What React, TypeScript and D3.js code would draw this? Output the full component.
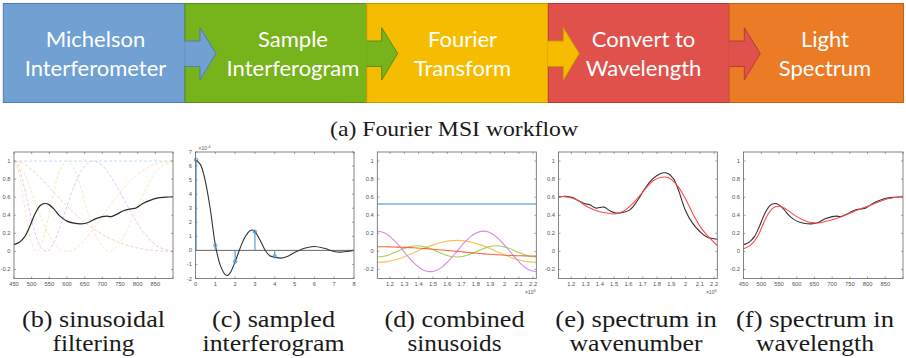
import React from "react";
import * as d3 from "d3";

// ---------- flowchart ----------
const flowLine1 = ["Michelson", "Sample", "Fourier", "Convert to", "Light"];
const flowLine2 = ["Interferometer", "Interferogram", "Transform", "Wavelength", "Spectrum"];
const flowFill = ["#71A1D3", "#77B41B", "#F6BD00", "#E0514B", "#EC7B26"];
const flowStroke = ["#4E7DB0", "#5C8D14", "#C99A00", "#B83D37", "#C2631C"];

// ---------- (b) sinusoidal filtering ----------
const filterWl = [900, 857.1, 818.2, 782.6, 750, 720, 692.3, 666.7, 642.9, 620.7, 600, 580.6, 562.5, 545.5, 529.4, 514.3, 500, 486.5, 473.7, 461.5, 450];
const filterFlatWl = [450, 900];
const filterFlat = [1, 1];
const filterHalf = [0, 0.006, 0.024, 0.054, 0.095, 0.146, 0.206, 0.273, 0.345, 0.422, 0.5, 0.578, 0.655, 0.727, 0.794, 0.854, 0.905, 0.946, 0.976, 0.994, 1];
const filterOne = [1, 0.976, 0.905, 0.794, 0.655, 0.5, 0.345, 0.206, 0.095, 0.024, 0, 0.024, 0.095, 0.206, 0.345, 0.5, 0.655, 0.794, 0.905, 0.976, 1];
const filterThreeHalf = [0, 0.054, 0.206, 0.422, 0.655, 0.854, 0.976, 0.994, 0.905, 0.727, 0.5, 0.273, 0.095, 0.006, 0.024, 0.146, 0.345, 0.578, 0.794, 0.946, 1];
const filterTwo = [1, 0.905, 0.655, 0.345, 0.095, 0, 0.095, 0.345, 0.655, 0.905, 1, 0.905, 0.655, 0.345, 0.095, 0, 0.095, 0.345, 0.655, 0.905, 1];

// true spectrum vs wavelength (b, f)
const spectrumWl = [450, 465, 480, 495, 510, 525, 538, 550, 565, 580, 600, 620, 640, 660, 680, 700, 712, 725, 740, 760, 780, 795, 815, 835, 855, 880, 900];
const spectrumVal = [0.075, 0.1, 0.16, 0.28, 0.42, 0.51, 0.53, 0.515, 0.46, 0.39, 0.335, 0.312, 0.305, 0.32, 0.36, 0.385, 0.39, 0.385, 0.41, 0.45, 0.47, 0.48, 0.53, 0.565, 0.59, 0.6, 0.605];
// reconstruction vs wavelength (f)
const reconWl = [450, 470, 490, 505, 520, 535, 550, 565, 580, 600, 620, 640, 660, 680, 700, 720, 740, 760, 780, 800, 820, 840, 860, 880, 900];
const reconVal = [0.03, 0.07, 0.17, 0.3, 0.42, 0.485, 0.5, 0.48, 0.44, 0.385, 0.345, 0.32, 0.315, 0.33, 0.35, 0.375, 0.405, 0.44, 0.47, 0.5, 0.53, 0.56, 0.585, 0.6, 0.61];

// ---------- (c) sampled interferogram ----------
const ifgX = [0, 0.25, 0.5, 0.75, 1, 1.25, 1.5, 1.62, 1.75, 2, 2.25, 2.5, 2.75, 2.88, 3, 3.25, 3.5, 3.75, 4, 4.3, 4.6, 5, 5.5, 6, 6.5, 7, 7.3, 7.6, 8];
const ifgY = [6.45, 6.1, 4.9, 2.9, 0.4, -1.05, -1.72, -1.78, -1.6, -0.8, 0.15, 0.95, 1.4, 1.45, 1.33, 0.75, 0.05, -0.38, -0.48, -0.55, -0.45, -0.15, 0.15, 0.28, 0.15, -0.08, -0.12, -0.08, 0];
const sampleX = [0, 1, 2, 3, 4];
const sampleY = [6.45, 0.35, -0.8, 1.33, -0.42];

// ---------- (d) combined sinusoids (x in 1e6) ----------
const wn = [1.111, 1.167, 1.222, 1.278, 1.333, 1.389, 1.444, 1.5, 1.556, 1.611, 1.667, 1.722, 1.778, 1.833, 1.889, 1.944, 2.0, 2.056, 2.111, 2.167, 2.222];
const compFlatWn = [1.111, 2.222];
const compFlat = [0.53, 0.53];
const compOrange = [0.052, 0.051, 0.049, 0.046, 0.042, 0.037, 0.031, 0.024, 0.016, 0.008, 0, -0.008, -0.016, -0.024, -0.031, -0.037, -0.042, -0.046, -0.049, -0.051, -0.052];
const compYellow = [-0.122, -0.116, -0.099, -0.072, -0.038, 0, 0.038, 0.072, 0.099, 0.116, 0.122, 0.116, 0.099, 0.072, 0.038, 0, -0.038, -0.072, -0.099, -0.116, -0.122];
const compPurple = [0.225, 0.2, 0.132, 0.035, -0.07, -0.159, -0.214, -0.222, -0.182, -0.102, 0, 0.102, 0.182, 0.222, 0.214, 0.159, 0.07, -0.035, -0.132, -0.2, -0.225];
const compGreen = [-0.062, -0.05, -0.019, 0.019, 0.05, 0.062, 0.05, 0.019, -0.019, -0.05, -0.062, -0.05, -0.019, 0.019, 0.05, 0.062, 0.05, 0.019, -0.019, -0.05, -0.062];

// ---------- (e) spectrum in wavenumber ----------
const specWn = [1.111, 1.16, 1.21, 1.25, 1.29, 1.33, 1.37, 1.4, 1.43, 1.47, 1.51, 1.56, 1.61, 1.66, 1.705, 1.75, 1.8, 1.847, 1.88, 1.917, 1.95, 2.0, 2.05, 2.1, 2.15, 2.222];
const specWnVal = [0.6, 0.61, 0.595, 0.56, 0.53, 0.515, 0.48, 0.485, 0.49, 0.45, 0.425, 0.43, 0.46, 0.555, 0.67, 0.77, 0.84, 0.87, 0.86, 0.8, 0.68, 0.45, 0.31, 0.22, 0.16, 0.135];
const reconWn = [1.111, 1.18, 1.235, 1.306, 1.376, 1.447, 1.506, 1.565, 1.635, 1.706, 1.776, 1.835, 1.882, 1.941, 2.0, 2.05, 2.1, 2.15, 2.222];
const reconWnVal = [0.61, 0.6, 0.575, 0.5, 0.45, 0.425, 0.415, 0.445, 0.537, 0.667, 0.785, 0.82, 0.815, 0.73, 0.58, 0.42, 0.28, 0.18, 0.065];

// ---------- ticks ----------
const wlTicks = [450, 500, 550, 600, 650, 700, 750, 800, 850, 900];
const wlTickLabels = ["450", "500", "550", "600", "650", "700", "750", "800", "850", ""];
const wnTicks = [1.2, 1.3, 1.4, 1.5, 1.6, 1.7, 1.8, 1.9, 2.0, 2.1, 2.2];
const wnTickLabels = ["1.2", "1.3", "1.4", "1.5", "1.6", "1.7", "1.8", "1.9", "2", "2.1", "2.2"];
const unitTicks = [-0.2, 0, 0.2, 0.4, 0.6, 0.8, 1];
const unitTickLabels = ["-0.2", "0", "0.2", "0.4", "0.6", "0.8", "1"];
const ifgXTicks = [0, 1, 2, 3, 4, 5, 6, 7, 8];
const ifgXTickLabels = ["0", "1", "2", "3", "4", "5", "6", "7", "8"];
const ifgYTicks = [-2, -1, 0, 1, 2, 3, 4, 5, 6, 7];
const ifgYTickLabels = ["-2", "-1", "0", "1", "2", "3", "4", "5", "6", "7"];

const captionsTop = ["(b) sinusoidal", "(c) sampled", "(d) combined", "(e) spectrum in", "(f) spectrum in"];
const captionsBottom = ["filtering", "interferogram", "sinusoids", "wavenumber", "wavelength"];

// ---------- layout ----------
const W = 906, H = 358;
const PY0 = 152, PY1 = 278.5;
const panelX = [[14, 173], [195.5, 354], [377.3, 536.3], [558.6, 717.3], [743.6, 903]];
const boxX = [3.3, 185, 366.7, 548.3, 729.3, 903.5];
const textCx = [95.5, 293, 462.5, 643.5, 825];
const capCx = [93.5, 273.5, 454.5, 636, 815];
const capW1 = [143, 123, 140, 161.5, 158];
const capW2 = [82, 142, 94, 133, 118];

const zip = (a: number[], b: number[]) => a.map((v, i) => [v, b[i]] as [number, number]);

type PanelProps = {
  xr: number[];
  xDomain: [number, number];
  yDomain: [number, number];
  xTicks: number[];
  xLabels: string[];
  yTicks: number[];
  yLabels: string[];
  draw: (x: d3.ScaleLinear<number, number>, y: d3.ScaleLinear<number, number>) => React.ReactNode;
  exponentX?: string;
  exponentY?: string;
};

function Panel({ xr, xDomain, yDomain, xTicks, xLabels, yTicks, yLabels, draw, exponentX, exponentY }: PanelProps) {
  const x = d3.scaleLinear().domain(xDomain).range([xr[0], xr[1]]);
  const y = d3.scaleLinear().domain(yDomain).range([PY1, PY0]);
  const tl = 2;
  const tickCol = "#666";
  const font = { fontFamily: "'Liberation Sans', Arial, sans-serif", fontSize: 5.8, fill: "#555" };
  return (
    <g>
      <g>{draw(x, y)}</g>
      <rect x={xr[0]} y={PY0} width={xr[1] - xr[0]} height={PY1 - PY0} fill="none" stroke="#666" strokeWidth={0.8} />
      {xTicks.map((t, i) => (
        <g key={"xt" + i}>
          <line x1={x(t)} x2={x(t)} y1={PY1} y2={PY1 - tl} stroke={tickCol} strokeWidth={0.6} />
          <line x1={x(t)} x2={x(t)} y1={PY0} y2={PY0 + tl} stroke={tickCol} strokeWidth={0.6} />
          <text x={x(t)} y={PY1 + 7} textAnchor="middle" {...font}>{xLabels[i]}</text>
        </g>
      ))}
      {yTicks.map((t, i) => (
        <g key={"yt" + i}>
          <line x1={xr[0]} x2={xr[0] + tl} y1={y(t)} y2={y(t)} stroke={tickCol} strokeWidth={0.6} />
          <line x1={xr[1]} x2={xr[1] - tl} y1={y(t)} y2={y(t)} stroke={tickCol} strokeWidth={0.6} />
          <text x={xr[0] - 3.5} y={y(t) + 2} textAnchor="end" {...font}>{yLabels[i]}</text>
        </g>
      ))}
      {exponentX && (
        <text x={xr[1] - 6} y={PY1 + 15} textAnchor="middle" {...font} fontSize={5}>
          ×10<tspan dy={-2} fontSize={4}>{exponentX}</tspan>
        </text>
      )}
      {exponentY && (
        <text x={xr[0] + 3} y={PY0 - 2.5} textAnchor="start" {...font} fontSize={5}>
          ×10<tspan dy={-2} fontSize={4}>{exponentY}</tspan>
        </text>
      )}
    </g>
  );
}

const curve = d3.curveCatmullRom.alpha(0.5);
function pathOf(x: d3.ScaleLinear<number, number>, y: d3.ScaleLinear<number, number>, pts: [number, number][]) {
  return d3.line<[number, number]>().x((d) => x(d[0])).y((d) => y(d[1])).curve(curve)(pts) || "";
}

export default function App() {
  const serif = "'Liberation Serif', 'Times New Roman', serif";
  return (
    <svg width={W} height={H} viewBox={`0 0 ${W} ${H}`} style={{ position: "absolute", left: 0, top: 0, background: "#fff" }}>
      {/* flow boxes */}
      {flowFill.map((c, i) => (
        <rect key={"b" + i} x={boxX[i]} y={3.5} width={boxX[i + 1] - boxX[i]} height={99} fill={c} stroke={flowStroke[i]} strokeWidth={1} />
      ))}
      {flowFill.slice(0, 4).map((c, i) => {
        const x0 = boxX[i + 1];
        const pts = [
          [x0, 41], [x0 + 15, 41], [x0 + 15, 27.7], [x0 + 31, 53.5], [x0 + 15, 80], [x0 + 15, 66.5], [x0, 66.5],
        ];
        return (
          <polygon key={"a" + i} points={pts.map((p) => p.join(",")).join(" ")} fill={c} stroke={flowStroke[i]} strokeWidth={1} />
        );
      })}
      {flowFill.slice(0, 4).map((c, i) => (
        <line key={"al" + i} x1={boxX[i + 1]} x2={boxX[i + 1]} y1={41.5} y2={66} stroke={c} strokeWidth={1.5} />
      ))}
      {flowLine1.map((t, i) => (
        <g key={"t" + i} fontFamily="Lato, sans-serif" fontSize={22} fill="#fff" textAnchor="middle">
          <text x={textCx[i]} y={46.7}>{t}</text>
          <text x={textCx[i]} y={76}>{flowLine2[i]}</text>
        </g>
      ))}
      <text x={454} y={136} textAnchor="middle" fontFamily={serif} fontSize={21} fill="#1a1a1a" textLength={248} lengthAdjust="spacingAndGlyphs">
        (a) Fourier MSI workflow
      </text>

      {/* (b) */}
      <Panel
        xr={panelX[0]} xDomain={[450, 900]} yDomain={[-0.3, 1.1]}
        xTicks={wlTicks} xLabels={wlTickLabels} yTicks={unitTicks} yLabels={unitTickLabels}
        draw={(x, y) => (
          <g fill="none">
            <g strokeDasharray="3,2" strokeWidth={0.8} opacity={0.5}>
              <path d={pathOf(x, y, zip(filterFlatWl, filterFlat))} stroke="#6FB0E8" />
              <path d={pathOf(x, y, zip(filterWl, filterHalf))} stroke="#F08A5D" />
              <path d={pathOf(x, y, zip(filterWl, filterOne))} stroke="#F5C04A" />
              <path d={pathOf(x, y, zip(filterWl, filterThreeHalf))} stroke="#D070E0" />
              <path d={pathOf(x, y, zip(filterWl, filterTwo))} stroke="#E8D060" />
            </g>
            <path d={pathOf(x, y, zip(spectrumWl, spectrumVal))} stroke="#2a2a2a" strokeWidth={1.2} />
          </g>
        )}
      />
      {/* (c) */}
      <Panel
        xr={panelX[1]} xDomain={[0, 8]} yDomain={[-2, 7]}
        xTicks={ifgXTicks} xLabels={ifgXTickLabels} yTicks={ifgYTicks} yLabels={ifgYTickLabels}
        exponentY="-4"
        draw={(x, y) => (
          <g>
            <line x1={x(0)} x2={x(8)} y1={y(0)} y2={y(0)} stroke="#555" strokeWidth={0.9} />
            <path d={pathOf(x, y, zip(ifgX, ifgY))} fill="none" stroke="#333" strokeWidth={1.1} />
            {sampleX.map((sx, i) => (
              <g key={i}>
                <line x1={x(sx) + (i === 0 ? 0.6 : 0)} x2={x(sx) + (i === 0 ? 0.6 : 0)} y1={y(0)} y2={y(sampleY[i])} stroke="#4A94D4" strokeWidth={1.1} />
                <circle cx={x(sx) + (i === 0 ? 0.6 : 0)} cy={y(sampleY[i])} r={1.7} fill="none" stroke="#4A94D4" strokeWidth={0.9} />
              </g>
            ))}
          </g>
        )}
      />
      {/* (d) */}
      <Panel
        xr={panelX[2]} xDomain={[1.1111, 2.2222]} yDomain={[-0.3, 1.1]}
        xTicks={wnTicks} xLabels={wnTickLabels} yTicks={unitTicks} yLabels={unitTickLabels}
        exponentX="6"
        draw={(x, y) => (
          <g fill="none" strokeWidth={1.1}>
            <rect x={x(compFlatWn[0])} width={x(compFlatWn[1]) - x(compFlatWn[0])} y={Math.round(y(compFlat[0])) - 0.6} height={1.2} fill="#4FA0E0" stroke="none" />
            <path d={pathOf(x, y, zip(wn, compYellow))} stroke="#F9C152" />
            <path d={pathOf(x, y, zip(wn, compGreen))} stroke="#A8CF50" />
            <path d={pathOf(x, y, zip(wn, compPurple))} stroke="#D98AE6" />
            <path d={pathOf(x, y, zip(wn, compOrange))} stroke="#F2693F" />
          </g>
        )}
      />
      {/* (e) */}
      <Panel
        xr={panelX[3]} xDomain={[1.1111, 2.2222]} yDomain={[-0.3, 1.1]}
        xTicks={wnTicks} xLabels={wnTickLabels} yTicks={unitTicks} yLabels={unitTickLabels}
        exponentX="6"
        draw={(x, y) => (
          <g fill="none" strokeWidth={1.1}>
            <path d={pathOf(x, y, zip(specWn, specWnVal))} stroke="#333" />
            <path d={pathOf(x, y, zip(reconWn, reconWnVal))} stroke="#FF4A4A" />
          </g>
        )}
      />
      {/* (f) */}
      <Panel
        xr={panelX[4]} xDomain={[450, 900]} yDomain={[-0.3, 1.1]}
        xTicks={wlTicks} xLabels={wlTickLabels} yTicks={unitTicks} yLabels={unitTickLabels}
        draw={(x, y) => (
          <g fill="none" strokeWidth={1.1}>
            <path d={pathOf(x, y, zip(spectrumWl, spectrumVal))} stroke="#333" />
            <path d={pathOf(x, y, zip(reconWl, reconVal))} stroke="#FF4A4A" />
          </g>
        )}
      />

      {captionsTop.map((c, i) => (
        <g key={"c" + i} fontFamily={serif} fontSize={23} fill="#1a1a1a" textAnchor="middle">
          <text x={capCx[i]} y={327} textLength={capW1[i]} lengthAdjust="spacingAndGlyphs">{c}</text>
          <text x={capCx[i]} y={351} textLength={capW2[i]} lengthAdjust="spacingAndGlyphs">{captionsBottom[i]}</text>
        </g>
      ))}
    </svg>
  );
}
